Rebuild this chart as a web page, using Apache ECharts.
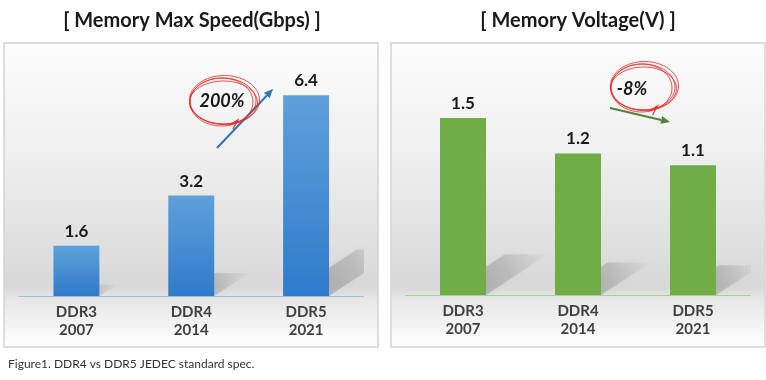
<!DOCTYPE html>
<html><head><meta charset="utf-8">
<script src="https://cdn.jsdelivr.net/npm/echarts@6/dist/echarts.min.js"></script>
<style>html,body{margin:0;padding:0;background:#fff}#c{width:766px;height:380px}</style>
</head><body><div id="c"></div>
<script>
const categories = ['DDR3\n2007', 'DDR4\n2014', 'DDR5\n2021'];
const speedValues = [1.6, 3.2, 6.4];
const voltageValues = [1.5, 1.2, 1.1];
const titles = ['[ Memory Max Speed(Gbps) ]', '[ Memory Voltage(V) ]'];
const annotations = ['200%', '-8%'];
const caption = 'Figure1. DDR4 vs DDR5 JEDEC standard spec.';

const FONT = 'Lato, "Open Sans", sans-serif';
const chart = echarts.init(document.getElementById('c'), null, {renderer: 'canvas'});

function shadowRender(params, api) {
  const idx = api.value(0), v = api.value(1);
  const base = api.coord([idx, 0]);
  const top = api.coord([idx, v]);
  const band = api.size([1, 0])[0];
  const bw = band * 0.4;
  const h = base[1] - top[1];
  const x0 = base[0] - bw / 2 + 3, x1 = base[0] + bw / 2;
  const dx = h * 0.35, dy = h * 0.23;
  return {
    type: 'polygon',
    shape: {points: [[x0, base[1]], [x1, base[1]], [x1 + dx, base[1] - dy], [x0 + dx, base[1] - dy]]},
    style: {
      fill: new echarts.graphic.LinearGradient(0, 1, 1, 0, [
        {offset: 0, color: 'rgba(100,100,100,0.45)'},
        {offset: 0.6, color: 'rgba(120,120,120,0.28)'},
        {offset: 1, color: 'rgba(150,150,150,0.04)'}
      ]),
      shadowBlur: 6, shadowColor: 'rgba(0,0,0,0.12)'
    }
  };
}

function arrow(x1, y1, x2, y2, color) {
  const a = Math.atan2(y2 - y1, x2 - x1), L = 9, W = 4;
  const bx = x2 - L * Math.cos(a), by = y2 - L * Math.sin(a);
  return [
    {type: 'line', z: 100, shape: {x1, y1, x2: bx, y2: by}, style: {stroke: color, lineWidth: 2}},
    {type: 'polygon', z: 100, shape: {points: [[x2, y2], [bx - W * Math.sin(a), by + W * Math.cos(a)], [bx + W * Math.sin(a), by - W * Math.cos(a)]]}, style: {fill: color}}
  ];
}

function scribble(cx, cy, rx, ry) {
  const els = [];
  const offs = [[0, 0, 0, 0], [1.5, -1, 2, 1.5], [-1.5, 1, -1.5, 1], [0.5, 1.5, 1, -1.5]];
  offs.forEach(o => els.push({type: 'ellipse', z: 100, shape: {cx: cx + o[0], cy: cy + o[1], rx: rx + o[2], ry: ry + o[3]},
    style: {fill: 'none', stroke: '#e5302c', lineWidth: 1, opacity: 0.85}}));
  els.push({type: 'polyline', z: 100, shape: {points: [[cx + rx * 0.2, cy + ry + 1], [cx + rx * 0.45, cy + ry - 4], [cx + rx * 0.3, cy + ry + 5]]},
    style: {stroke: '#e5302c', lineWidth: 1.2, fill: 'none'}});
  return els;
}

function panel(x, w) {
  return {type: 'rect', z: -10, shape: {x, y: 43, width: w, height: 304},
    style: {
      fill: new echarts.graphic.LinearGradient(0, 0, 0, 1, [
        {offset: 0, color: '#fdfdfd'},
        {offset: 0.35, color: '#f0f0f0'},
        {offset: 0.8, color: '#d8d8d8'},
        {offset: 0.84, color: '#e6e6e6'},
        {offset: 1, color: '#ffffff'}
      ]),
      stroke: '#d4d4d4', lineWidth: 1.5
    }};
}

const barLabel = {show: true, position: 'top', distance: 6, fontFamily: FONT, fontWeight: 'bold', fontSize: 17, color: '#1a1a1a'};
const xLabel = {fontFamily: FONT, fontWeight: 'bold', fontSize: 15, color: '#404040', lineHeight: 18, margin: 7};

const option = {
  animation: false,
  grid: [
    {left: 19, right: 402.5, top: 45, bottom: 84},
    {left: 405.5, right: 15.5, top: 59, bottom: 85}
  ],
  xAxis: [
    {gridIndex: 0, type: 'category', data: categories, axisTick: {show: false}, axisLine: {lineStyle: {color: '#9dc3e6', width: 1}}, axisLabel: xLabel},
    {gridIndex: 1, type: 'category', data: categories, axisTick: {show: false}, axisLine: {lineStyle: {color: '#a9d18e', width: 1}}, axisLabel: xLabel}
  ],
  yAxis: [
    {gridIndex: 0, type: 'value', min: 0, max: 8, show: false, splitLine: {show: false}},
    {gridIndex: 1, type: 'value', min: 0, max: 2, show: false, splitLine: {show: false}}
  ],
  series: [
    {type: 'custom', xAxisIndex: 0, yAxisIndex: 0, clip: true, z: 1, renderItem: shadowRender,
      data: speedValues.map((v, i) => [i, v]), encode: {x: 0, y: 1}, silent: true},
    {type: 'custom', xAxisIndex: 1, yAxisIndex: 1, clip: true, z: 1, renderItem: shadowRender,
      data: voltageValues.map((v, i) => [i, v]), encode: {x: 0, y: 1}, silent: true},
    {type: 'bar', xAxisIndex: 0, yAxisIndex: 0, z: 3, barWidth: '40%', data: speedValues, label: barLabel,
      itemStyle: {color: new echarts.graphic.LinearGradient(0, 0, 0, 1, [
        {offset: 0, color: '#5fa0da'}, {offset: 1, color: '#2f7bcb'}])}},
    {type: 'bar', xAxisIndex: 1, yAxisIndex: 1, z: 3, barWidth: '40%', data: voltageValues, label: barLabel,
      itemStyle: {color: '#70ad47'}}
  ],
  graphic: [
    panel(4, 374), panel(391, 374),
    {type: 'text', z: 100, style: {text: titles[0], x: 192, y: 21, textAlign: 'center', textVerticalAlign: 'middle', font: 'bold 20px ' + FONT, fill: '#1a1a1a'}},
    {type: 'text', z: 100, style: {text: titles[1], x: 578, y: 21, textAlign: 'center', textVerticalAlign: 'middle', font: 'bold 20px ' + FONT, fill: '#1a1a1a'}},
    {type: 'text', z: 100, style: {text: caption, x: 8, y: 364, textAlign: 'left', textVerticalAlign: 'middle', font: '12px ' + FONT, fill: '#333333'}},
    ...arrow(217, 148, 273, 89, '#2e75b6'),
    ...arrow(610, 108, 670, 122, '#548235'),
    ...scribble(223, 101, 33, 23),
    ...scribble(643, 87, 32, 23),
    {type: 'text', z: 101, style: {text: annotations[0], x: 222, y: 101, textAlign: 'center', textVerticalAlign: 'middle', font: 'italic bold 18px ' + FONT, fill: '#1a1a1a'}},
    {type: 'text', z: 101, style: {text: annotations[1], x: 632, y: 89, textAlign: 'center', textVerticalAlign: 'middle', font: 'italic bold 18px ' + FONT, fill: '#1a1a1a'}}
  ]
};
chart.setOption(option);
</script></body></html>
